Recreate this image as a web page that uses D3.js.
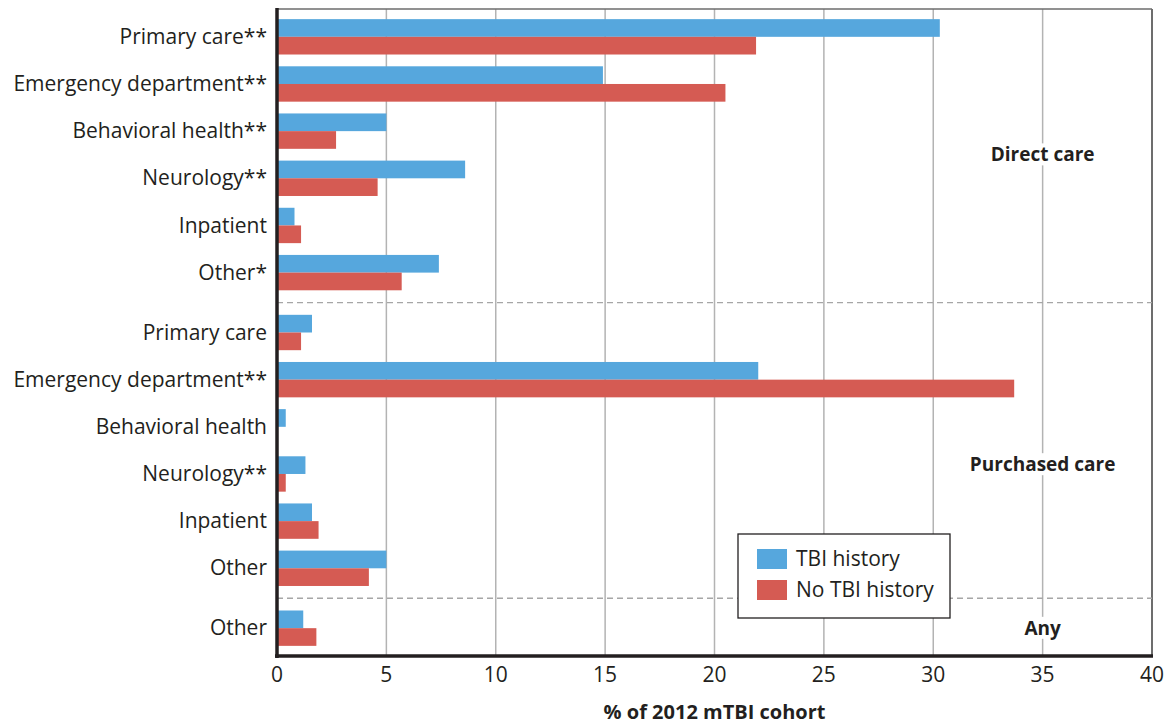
<!DOCTYPE html>
<html><head><meta charset="utf-8">
<script src="https://cdn.jsdelivr.net/npm/d3@7"></script>
<style>
html,body{margin:0;padding:0;background:#fff;}
text{font-family:"Open Sans","Noto Sans",sans-serif;fill:#231f20;}
</style></head>
<body><svg id="chart" width="1167" height="727"></svg>
<script>
const categories = ["Primary care**","Emergency department**","Behavioral health**","Neurology**","Inpatient","Other*",
  "Primary care","Emergency department**","Behavioral health","Neurology**","Inpatient","Other","Other"];
const groupOf = [0,0,0,0,0,0,1,1,1,1,1,1,2];
const groupLabels = ["Direct care","Purchased care","Any"];
const groupLabelRow = [2.5, 8.8, 12];
const tbiHistory   = [30.3,14.9,5.0,8.6,0.8,7.4, 1.6,22.0,0.4,1.3,1.6,5.0, 1.2];
const noTbiHistory = [21.9,20.5,2.7,4.6,1.1,5.7, 1.1,33.7,0.0,0.4,1.9,4.2, 1.8];
const seriesNames = ["TBI history","No TBI history"];
const xTicks = [0,5,10,15,20,25,30,35,40];
const axisTitle = "% of 2012 mTBI cohort";

const colors = ["#56a7dd","#d55b53"];
const svg = d3.select("#chart");
const L = 277, R = 1152, T = 9, B = 656;
const gap = 0.27, pad = 0.59;
const rowPos = (i) => i + groupOf[Math.min(Math.floor(i), groupOf.length-1)]*gap;
const pos = categories.map((c,i)=> rowPos(i));
const x = d3.scaleLinear().domain([0,40]).range([L,R]);
const y = d3.scaleLinear().domain([-pad, pos[pos.length-1]+pad]).range([T,B]);
const bh = 0.375;

// grid
svg.append("g").selectAll("line").data(xTicks.filter(t=>t>0 && t<40)).join("line")
  .attr("x1",d=>x(d)).attr("x2",d=>x(d)).attr("y1",T).attr("y2",B)
  .attr("stroke","#b3b3b3").attr("stroke-width",1.5);

// frame top/right
svg.append("line").attr("x1",L).attr("x2",R).attr("y1",T).attr("y2",T).attr("stroke","#6d6d6d").attr("stroke-width",1.5);
svg.append("line").attr("x1",R).attr("x2",R).attr("y1",T).attr("y2",B).attr("stroke","#6d6d6d").attr("stroke-width",2);

// group separators
const seps = [];
for (let i=1;i<categories.length;i++) if (groupOf[i]!==groupOf[i-1]) seps.push((pos[i]+pos[i-1])/2);
svg.append("g").selectAll("line").data(seps).join("line")
  .attr("x1",L).attr("x2",R).attr("y1",d=>y(d)).attr("y2",d=>y(d))
  .attr("stroke","#a6a6a6").attr("stroke-width",1.3).attr("stroke-dasharray","6,4");

// group labels
const gl = svg.append("g").selectAll("g").data(groupLabels).join("g");
gl.append("text").attr("x",x(35)).attr("y",(d,k)=>y(rowPos(groupLabelRow[k])))
  .attr("text-anchor","middle").attr("dy","0.35em").attr("font-size",19).attr("font-weight","bold")
  .text(d=>d).each(function(){
    const b = this.getBBox();
    d3.select(this.parentNode).insert("rect","text").attr("x",b.x-4).attr("y",b.y+2).attr("width",b.width+8).attr("height",b.height-4).attr("fill","#fff");
  });

// bars
const series = [tbiHistory, noTbiHistory];
series.forEach((vals,s)=>{
  svg.append("g").selectAll("rect").data(vals).join("rect")
    .attr("x",x(0)).attr("width",d=>x(d)-x(0))
    .attr("y",(d,i)=>y(pos[i]-bh+s*bh)).attr("height",y(bh)-y(0))
    .attr("fill",colors[s]);
});

// y labels
svg.append("g").selectAll("text").data(categories).join("text")
  .attr("x",L-10).attr("y",(d,i)=>y(pos[i])).attr("dy","0.34em")
  .attr("text-anchor","end").attr("font-size",21).text(d=>d);

// axes
svg.append("line").attr("x1",L).attr("x2",L).attr("y1",T-1).attr("y2",B+2).attr("stroke","#231f20").attr("stroke-width",3.5);
svg.append("line").attr("x1",L-2).attr("x2",R+1).attr("y1",B).attr("y2",B).attr("stroke","#231f20").attr("stroke-width",3.5);
svg.append("g").selectAll("text").data(xTicks).join("text")
  .attr("x",d=>x(d)).attr("y",682).attr("text-anchor","middle").attr("font-size",21).text(d=>d);
svg.append("text").attr("x",(L+R)/2).attr("y",719).attr("text-anchor","middle")
  .attr("font-size",20).attr("font-weight","bold").text(axisTitle);

// legend
const lg = svg.append("g");
lg.append("rect").attr("x",738).attr("y",534).attr("width",212).attr("height",84)
  .attr("fill","#fff").attr("stroke","#231f20").attr("stroke-width",1.3);
seriesNames.forEach((n,s)=>{
  lg.append("rect").attr("x",757).attr("y",549+s*31).attr("width",30).attr("height",20).attr("fill",colors[s]);
  lg.append("text").attr("x",796).attr("y",559+s*31).attr("dy","0.34em").attr("font-size",21).text(n);
});
</script></body></html>
